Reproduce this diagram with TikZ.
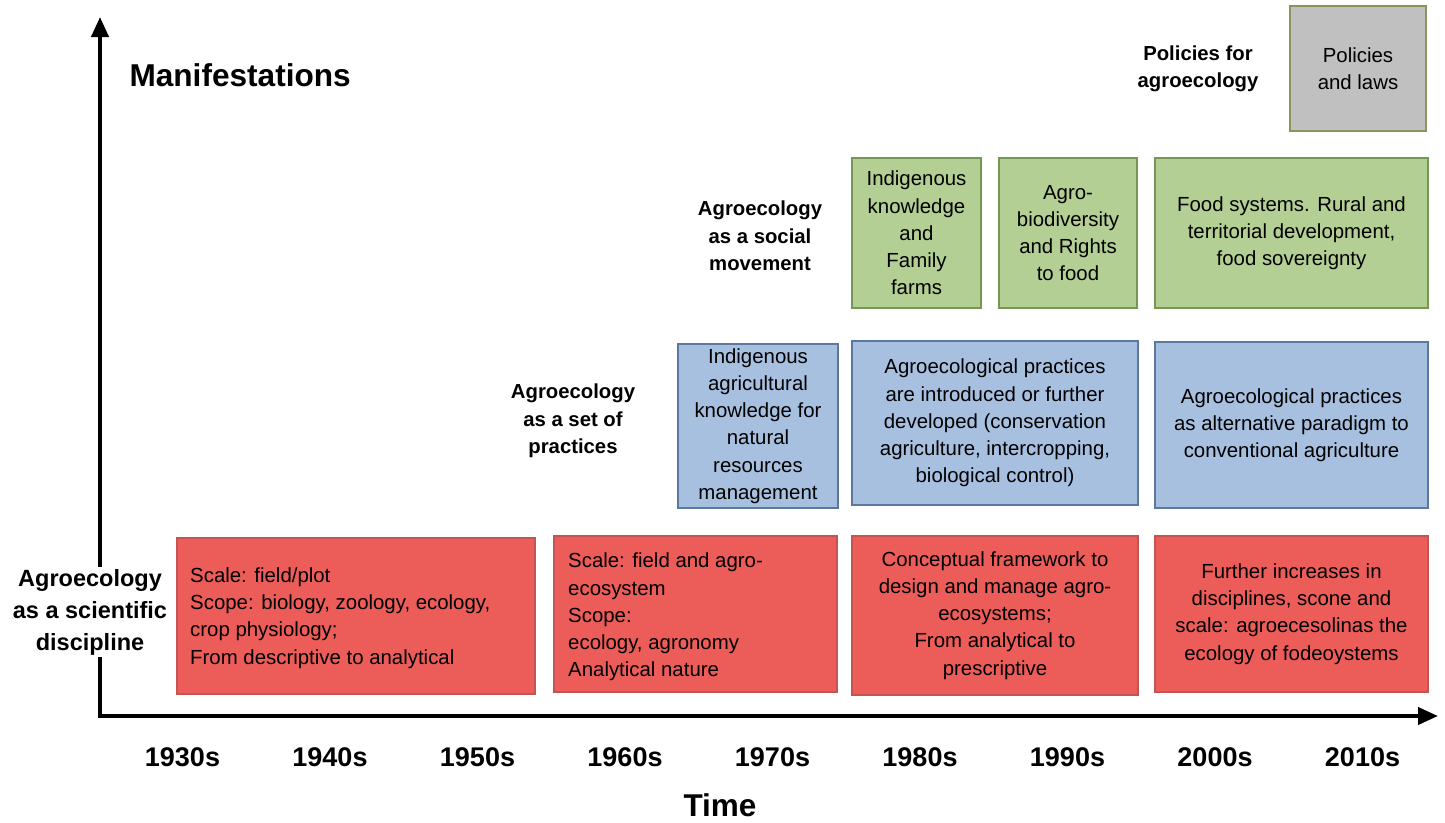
\documentclass[tikz,border=0pt]{standalone}
\usepackage{fontspec}
\setmainfont{Liberation Sans}
\usetikzlibrary{arrows.meta}
\definecolor{redfill}{RGB}{236,92,88}
\definecolor{redline}{RGB}{196,84,80}
\definecolor{bluefill}{RGB}{167,192,224}
\definecolor{blueline}{RGB}{92,120,160}
\definecolor{greenfill}{RGB}{180,207,147}
\definecolor{greenline}{RGB}{118,150,84}
\definecolor{grayfill}{RGB}{192,192,192}
\definecolor{grayline}{RGB}{138,148,92}
\tikzset{
  boxfont/.style={font=\fontsize{20.4}{27.2}\selectfont},
  box/.style={draw, line width=2pt, inner sep=0pt, align=center, boxfont},
  redbox/.style={box, fill=redfill, draw=redline},
  bluebox/.style={box, fill=bluefill, draw=blueline},
  greenbox/.style={box, fill=greenfill, draw=greenline},
  graybox/.style={box, fill=grayfill, draw=grayline},
  sidelabel/.style={align=center, font=\fontsize{20.3}{27.5}\selectfont\bfseries},
  yearlabel/.style={font=\fontsize{27}{30}\selectfont\bfseries},
  axis/.style={line width=4pt, line join=miter,
    {Triangle[width=17pt,length=20pt]}-{Triangle[width=17pt,length=20pt]}},
}
\begin{document}
\begin{tikzpicture}[x=1pt,y=-1pt]
\useasboundingbox (0,0) rectangle (1445,822);
% axes
\coordinate (ytip) at (100,17);
\coordinate (orig) at (100,716);
\coordinate (xtip) at (1438,716);
\draw[axis] (ytip) -- (orig) -- (xtip);

% labels
\node[anchor=west, font=\fontsize{31.6}{34}\selectfont\bfseries] (manif) at (126,75) {Manifestations};
\node[font=\fontsize{31.5}{34}\selectfont\bfseries] (time) at (720,805) {Time};
\node[sidelabel, fill=white, inner sep=2pt, font=\fontsize{23.5}{32}\selectfont\bfseries] (sci) at (90,612) {Agroecology\\as a scientific\\discipline};
\node[sidelabel] (prac) at (573,421) {Agroecology\\as a set of\\practices};
\node[sidelabel] (soc) at (760,236) {Agroecology\\as a social\\movement};
\node[sidelabel] (pol) at (1198,69) {Policies for\\agroecology};

% years
\node[yearlabel] (y30) at (182.5,757) {1930s};
\node[yearlabel] (y40) at (330,757) {1940s};
\node[yearlabel] (y50) at (477.5,757) {1950s};
\node[yearlabel] (y60) at (625,757) {1960s};
\node[yearlabel] (y70) at (772.5,757) {1970s};
\node[yearlabel] (y80) at (920,757) {1980s};
\node[yearlabel] (y90) at (1067.5,757) {1990s};
\node[yearlabel] (y00) at (1215,757) {2000s};
\node[yearlabel] (y10) at (1362.5,757) {2010s};

% red boxes
\node[redbox, minimum width=358pt, minimum height=156pt] (r1) at (356,616) {};
\node[anchor=west, align=left, boxfont, inner sep=0pt] (r1t) at (190,618)
  {Scale: field/plot\\Scope: biology, zoology, ecology,\\crop physiology;\\From descriptive to analytical};
\node[redbox, minimum width=283pt, minimum height=156pt] (r2) at (695.5,614) {};
\node[anchor=west, align=left, boxfont, inner sep=0pt] (r2t) at (568,617)
  {Scale: field and agro-\\ecosystem\\Scope:\\ecology, agronomy\\Analytical nature};
\node[redbox, minimum width=286pt, minimum height=159pt] (r3) at (995,615.5)
  {Conceptual framework to\\design and manage agro-\\ecosystems;\\From analytical to\\prescriptive};
\node[redbox, minimum width=273pt, minimum height=156pt] (r4) at (1291.5,614)
  {Further increases in\\disciplines, scone and\\scale: agroecesolinas the\\ecology of fodeoystems};

% blue boxes
\node[bluebox, minimum width=160pt, minimum height=164pt] (b1) at (758,426)
  {Indigenous\\agricultural\\knowledge for\\natural\\resources\\management};
\node[bluebox, minimum width=286pt, minimum height=164pt] (b2) at (995,423)
  {Agroecological practices\\are introduced or further\\developed (conservation\\agriculture, intercropping,\\biological control)};
\node[bluebox, minimum width=273pt, minimum height=166pt] (b3) at (1291.5,425)
  {Agroecological practices\\as alternative paradigm to\\conventional agriculture};

% green boxes
\node[greenbox, minimum width=129pt, minimum height=150pt] (g1) at (916.5,233)
  {Indigenous\\knowledge\\and\\Family\\farms};
\node[greenbox, minimum width=138pt, minimum height=150pt] (g2) at (1068,233)
  {Agro-\\biodiversity\\and Rights\\to food};
\node[greenbox, minimum width=273pt, minimum height=150pt] (g3) at (1291.5,233)
  {Food systems. Rural and\\territorial development,\\food sovereignty};

% gray box
\node[graybox, minimum width=136pt, minimum height=125pt] (p1) at (1358,68.5)
  {Policies\\and laws};
\end{tikzpicture}
\end{document}
